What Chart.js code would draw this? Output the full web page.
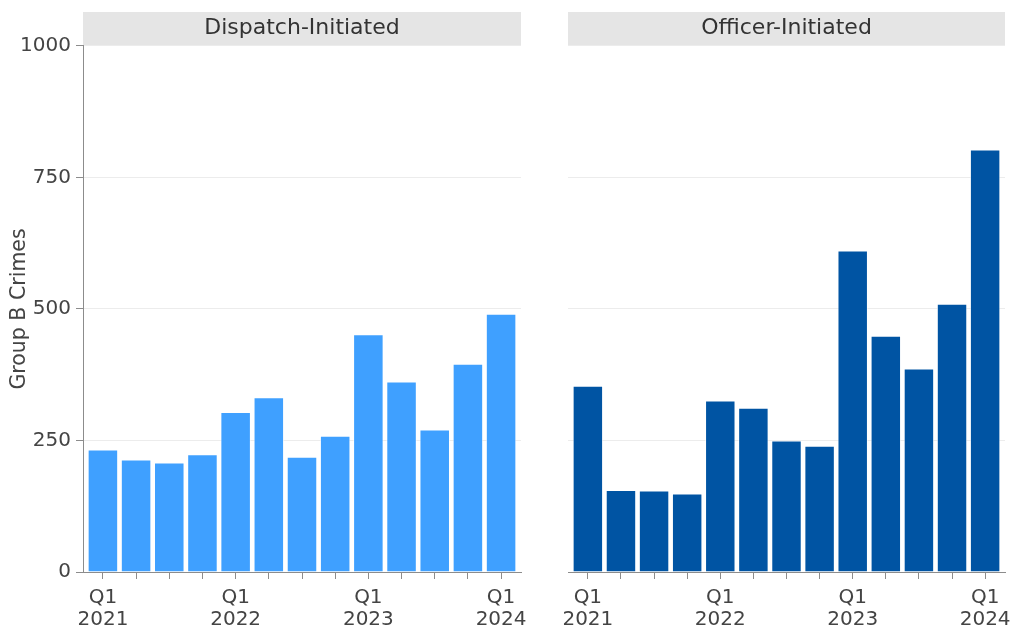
<!DOCTYPE html>
<html><head><meta charset="utf-8">
<script src="https://cdn.jsdelivr.net/npm/chart.js@4.4.1/dist/chart.umd.min.js"></script>
<style>
html,body{margin:0;padding:0;background:#fff;}
#wrap{position:relative;width:1016px;height:635px;overflow:hidden;}
canvas{position:absolute;top:0;}
#c1{left:0}
#c2{left:540px}
</style></head><body>
<div id="wrap"><canvas id="c1" width="530" height="635"></canvas><canvas id="c2" width="476" height="635"></canvas></div>
<script>
// ---- data ----
const quarters = ['2021 Q1','2021 Q2','2021 Q3','2021 Q4','2022 Q1','2022 Q2','2022 Q3','2022 Q4','2023 Q1','2023 Q2','2023 Q3','2023 Q4','2024 Q1'];
const dispatchInitiated = [233, 214, 208, 224, 304, 332, 219, 259, 452, 362, 271, 396, 491];
const officerInitiated  = [354, 156, 155, 149, 326, 312, 250, 240, 611, 449, 387, 510, 803];
const panelTitles = ['Dispatch-Initiated', 'Officer-Initiated'];
const yAxisTitle = 'Group B Crimes';
const yMin = 0, yMax = 1000, yStep = 250;

// ---- drawing ----
Chart.defaults.font.family = "'DejaVu Sans', sans-serif";
Chart.defaults.color = '#444';

const stripPlugin = {
  id: 'strip',
  beforeDraw(chart) {
    const {ctx, chartArea, titleBlock} = chart;
    ctx.save();
    ctx.fillStyle = '#e5e5e5';
    ctx.fillRect(chartArea.left, titleBlock.top, chartArea.right - chartArea.left, titleBlock.height);
    ctx.restore();
  }
};

function tickLabel(v) {
  const q = quarters[v];
  if (!q) return '';
  const [yr, qq] = q.split(' ');
  return qq === 'Q1' ? [qq, yr] : '';
}

function makeChart(id, values, color, title, showY, leftWidth, padRight) {
  return new Chart(document.getElementById(id), {
    type: 'bar',
    data: {
      datasets: [{
        data: values.map((v, i) => ({x: i, y: v})),
        backgroundColor: color,
        borderColor: 'rgba(255,255,255,0.6)',
        borderWidth: 1,
        borderSkipped: 'bottom',
        categoryPercentage: 0.92,
        barPercentage: 1
      }]
    },
    options: {
      responsive: false,
      animation: false,
      events: [],
      layout: {padding: {top: 12, right: padRight, left: 0, bottom: 0}},
      plugins: {
        legend: {display: false},
        tooltip: {enabled: false},
        title: {
          display: true, text: title, fullSize: false,
          color: '#333',
          font: {size: 22, weight: 'normal', lineHeight: 1.2},
          padding: {top: 3.5, bottom: 4}
        }
      },
      scales: {
        x: {
          type: 'linear',
          offset: false,
          min: -0.6, max: quarters.length - 0.4,
          afterBuildTicks: s => { s.ticks = quarters.map((q, i) => ({value: i})); },
          afterFit: s => { s.height = 63; s.paddingLeft = 0; s.paddingRight = 0; },
          grid: {offset: false, drawOnChartArea: false, drawTicks: true, tickLength: 7, tickColor: '#8c8c8c', tickWidth: 1},
          border: {display: true, color: '#8c8c8c', width: 1},
          ticks: {
            autoSkip: false, maxRotation: 0, padding: 8,
            color: '#444', font: {size: 20, lineHeight: 1.1},
            callback: v => tickLabel(v)
          }
        },
        y: {
          min: yMin, max: yMax,
          afterFit: s => { s.width = leftWidth; },
          grid: {color: '#ececec', lineWidth: 1, drawTicks: showY, tickLength: 7, tickColor: '#8c8c8c'},
          border: {display: showY, color: '#8c8c8c', width: 1},
          ticks: {display: showY, stepSize: yStep, padding: 5, color: '#444', font: {size: 20}, callback: v => String(v)},
          title: {display: showY, text: yAxisTitle, color: '#444', font: {size: 20.5}, padding: {top: 7, bottom: 0}}
        }
      }
    },
    plugins: [stripPlugin]
  });
}

makeChart('c1', dispatchInitiated, '#3fa0ff', panelTitles[0], true, 83, 9);
makeChart('c2', officerInitiated, '#0054a3', panelTitles[1], false, 28, 11);
</script>
</body></html>
